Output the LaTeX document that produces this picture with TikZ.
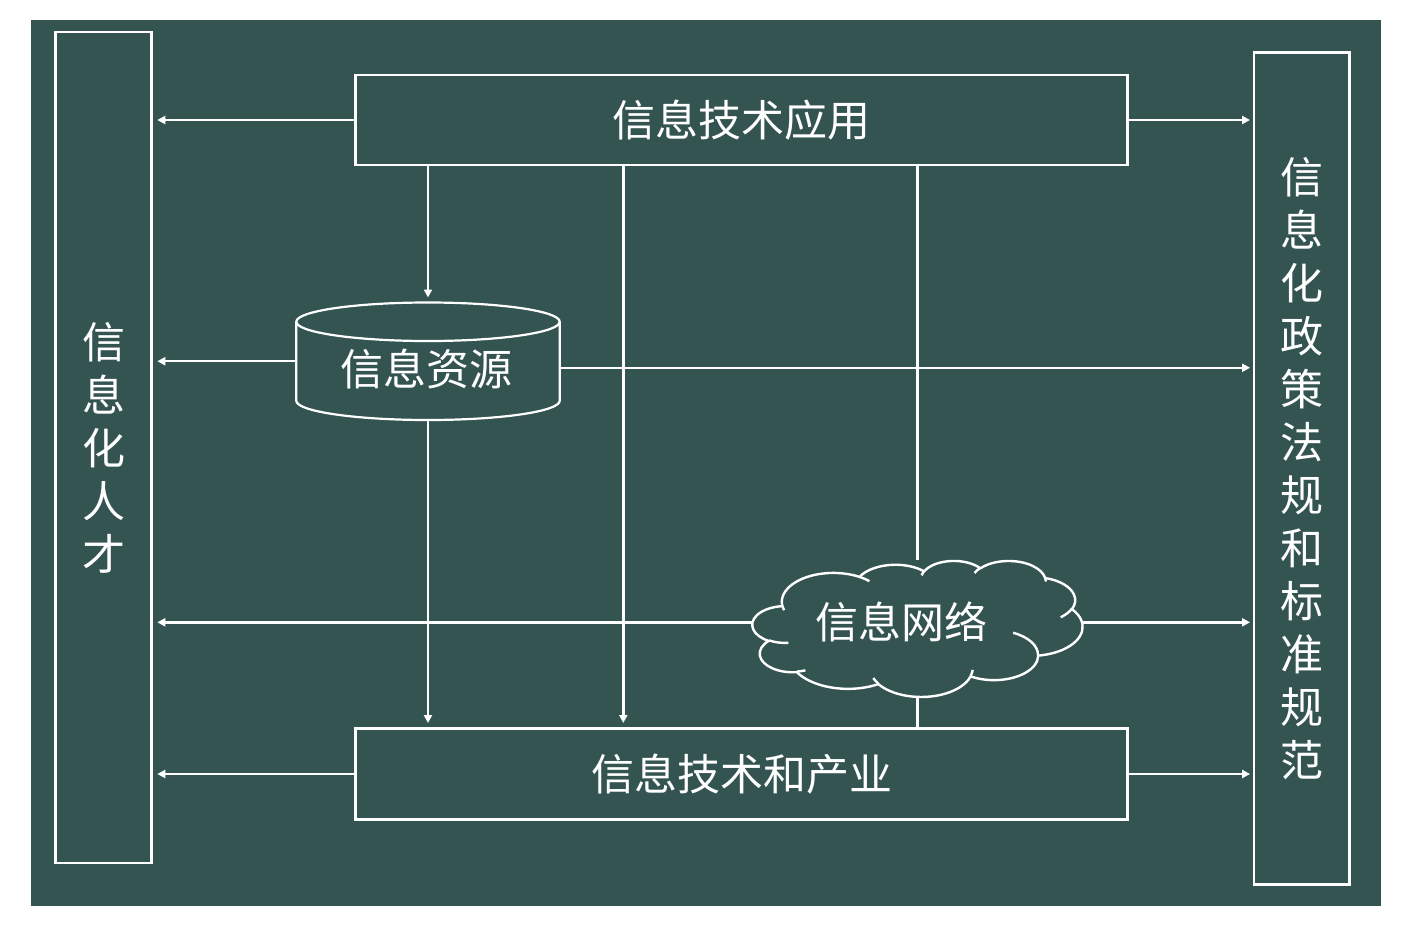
\documentclass[tikz,border=0pt]{standalone}
\usepackage{fontspec}
\newfontfamily\cjk{Noto Sans CJK SC}
\usetikzlibrary{arrows.meta}
\definecolor{bg}{RGB}{52,84,82}
\newcommand\mkarc[6]{%
 \pgfmathsetmacro#1{atan2(#3*sin(#5),#4*cos(#5))}%
 \pgfmathsetmacro\mkarctmp{atan2(#3*sin(#5+#6),#4*cos(#5+#6))}%
 \pgfmathsetmacro#2{#1+mod(\mkarctmp-#1+720,360)}}
\begin{document}
\begin{tikzpicture}[x=1pt,y=-1pt,
  boxline/.style={draw=white,line width=2.7pt,inner sep=0pt,outer sep=0pt},
  conn/.style={draw=white,line width=2.4pt},
  arr/.style={conn,-{Triangle[length=8pt,width=8pt]}},
  lbl/.style={text=white,font=\cjk\fontsize{43}{53}\selectfont,inner sep=0pt},
  frame/.style={inner sep=0pt,outer sep=0pt},
  cldline/.style={draw=white,line width=2.4pt,line join=round},
]
% cloud arcs (visual angles -> parametric)
\mkarc\cSa\cEa{675.3}{919.0}{-190.48748}{123.78053}
\mkarc\cSb\cEb{533.3}{726.7}{-144.10238}{89.94523}
\mkarc\cSc\cEc{436.5}{594.5}{-145.80792}{99.72302}
\mkarc\cSd\cEd{485.7}{659.5}{-130.98607}{117.24173}
\mkarc\cSe\cEe{533.3}{727.3}{-78.70888}{109.02692}
\mkarc\cSf\cEf{677.5}{922.0}{-46.26725}{130.269}
\mkarc\cSg\cEg{578.5}{786.7}{0.62502}{114.03333}
\mkarc\cSh\cEh{675.2}{921.5}{22.4516}{115.17255}
\mkarc\cSi\cEi{772.0}{1054.3}{66.24263}{75.71102}
\mkarc\cSj\cEj{436.0}{591.8}{-274.94208}{146.73557}
\mkarc\cSk\cEk{434.5}{594.5}{-246.8285}{152.51885}
% inner arcs
\mkarc\dSa\dEa{434.5}{594.5}{86.742}{26.4295}
\mkarc\dSb\dEb{436.0}{591.8}{73.6105}{11.4475}
\mkarc\dSc\dEc{675.2}{921.5}{137.6242}{14.0811}
\mkarc\dSd\dEd{675.2}{921.5}{6.4533}{15.9984}
\mkarc\dSe\dEe{578.5}{786.7}{-70.2924}{70.9174}
\mkarc\dSf\dEf{533.3}{727.3}{30.3180}{27.7515}
\mkarc\dSg\dEg{485.7}{659.5}{-13.7443}{14.8589}
\mkarc\dSh\dEh{485.7}{659.5}{-149.1815}{18.1954}
\mkarc\dSi\dEi{436.5}{594.5}{-163.4943}{17.6864}
\mkarc\dSj\dEj{675.3}{919.0}{-66.7070}{12.3194}
\mkarc\dSk\dEk{675.3}{919.0}{157.6544}{11.8582}

\useasboundingbox (0,0) rectangle (1414,932);
\fill[white] (0,0) rectangle (1414,932);
\fill[bg] (31,20) rectangle (1381,906);

% side boxes
\node[boxline,lbl,align=center,minimum width=95.6pt,minimum height=831pt] (ren) at (103.5,447.5) {信\\息\\化\\人\\才};
\node[boxline,lbl,align=center,minimum width=95.3pt,minimum height=832pt] (zc) at (1301.7,468.5) {信\\息\\化\\政\\策\\法\\规\\和\\标\\准\\规\\范};

% main boxes
\node[boxline,lbl,minimum width=772pt,minimum height=90pt] (top) at (741.5,120) {信息技术应用};
\node[boxline,lbl,minimum width=772pt,minimum height=91pt] (bot) at (741.5,774) {信息技术和产业};

% cylinder
\node[frame,minimum width=263.4pt,minimum height=117.5pt] (cyl) at (428,361.25) {};
\draw[white,line width=2.2pt] ([yshift=-19.25pt]cyl.north) ellipse [x radius=131.7pt, y radius=19.25pt];
\draw[white,line width=2.2pt] ([yshift=-19.25pt]cyl.north west) -- ([yshift=19.25pt]cyl.south west)
  arc[start angle=180, end angle=360, x radius=131.7pt, y radius=19.25pt] -- ([yshift=-19.25pt]cyl.north east);
\node[lbl] (zy) at (426,369) {信息资源};

% cloud
\node[frame,minimum width=331pt,minimum height=137pt] (net) at (917.5,628.5) {};
\begin{scope}[shift={(752.5,560.5)},xscale=0.07639,yscale=0.03148]
\draw[cldline] (390,1437)
  arc[start angle=\cSa,end angle=\cEa,x radius=675.3,y radius=919.0]
  arc[start angle=\cSb,end angle=\cEb,x radius=533.3,y radius=726.7]
  arc[start angle=\cSc,end angle=\cEc,x radius=436.5,y radius=594.5]
  arc[start angle=\cSd,end angle=\cEd,x radius=485.7,y radius=659.5]
  arc[start angle=\cSe,end angle=\cEe,x radius=533.3,y radius=727.3]
  arc[start angle=\cSf,end angle=\cEf,x radius=677.5,y radius=922.0]
  arc[start angle=\cSg,end angle=\cEg,x radius=578.5,y radius=786.7]
  arc[start angle=\cSh,end angle=\cEh,x radius=675.2,y radius=921.5]
  arc[start angle=\cSi,end angle=\cEi,x radius=772.0,y radius=1054.3]
  arc[start angle=\cSj,end angle=\cEj,x radius=436.0,y radius=591.8]
  arc[start angle=\cSk,end angle=\cEk,x radius=434.5,y radius=594.5]
  -- cycle;
\draw[cldline]
  (469.3,2617.7) arc[start angle=\dSa,end angle=\dEa,x radius=434.5,y radius=594.5]
  (692.8,3489.9) arc[start angle=\dSb,end angle=\dEb,x radius=436.0,y radius=591.8]
  (1647.8,3909.0) arc[start angle=\dSc,end angle=\dEc,x radius=675.2,y radius=921.5]
  (2882.7,3475.1) arc[start angle=\dSd,end angle=\dEd,x radius=675.2,y radius=921.5]
  (3412.9,2295.4) arc[start angle=\dSe,end angle=\dEe,x radius=578.5,y radius=786.7]
  (4179.8,1535.4) arc[start angle=\dSf,end angle=\dEf,x radius=533.3,y radius=727.3]
  (3832.4,542.6) arc[start angle=\dSg,end angle=\dEg,x radius=485.7,y radius=659.5]
  (2907.8,395.2) arc[start angle=\dSh,end angle=\dEh,x radius=485.7,y radius=659.5]
  (2214.1,472.0) arc[start angle=\dSi,end angle=\dEi,x radius=436.5,y radius=594.5]
  (1400.0,519.2) arc[start angle=\dSj,end angle=\dEj,x radius=675.3,y radius=919.0]
  (412.7,1578.9) arc[start angle=\dSk,end angle=\dEk,x radius=675.3,y radius=919.0];
\end{scope}
\node[lbl] (wl) at (901,622) {信息网络};

% vertical connectors
\coordinate (mid) at (623.3,0);
\draw[arr,shorten >=5pt] (cyl.north |- top.south) -- (cyl.north);
\draw[arr,shorten >=5.5pt] (cyl.south) -- (cyl.south |- bot.north);
\draw[arr,shorten >=5.5pt] (mid |- top.south) -- (mid |- bot.north);
\draw[conn] (net.north |- top.south) -- (net.north);
\draw[conn] (net.south) -- (net.south |- bot.north);

% horizontal connectors
\draw[arr,shorten >=6pt] (top.west) -- (top.west -| ren.east);
\draw[arr,shorten >=4pt] (top.east) -- (top.east -| zc.west);
\draw[arr,shorten >=6pt] (cyl.west) -- (cyl.west -| ren.east);
\draw[arr,shorten >=4pt] ([yshift=-6.5pt]cyl.east) -- ([yshift=-6.5pt]cyl.east -| zc.west);
\draw[arr,shorten >=6pt] ([yshift=6.2pt]net.west) -- ([yshift=6.2pt]net.west -| ren.east);
\draw[arr,shorten >=4pt] ([yshift=6.2pt]net.east) -- ([yshift=6.2pt]net.east -| zc.west);
\draw[arr,shorten >=6pt] (bot.west) -- (bot.west -| ren.east);
\draw[arr,shorten >=4pt] (bot.east) -- (bot.east -| zc.west);
\end{tikzpicture}
\end{document}
